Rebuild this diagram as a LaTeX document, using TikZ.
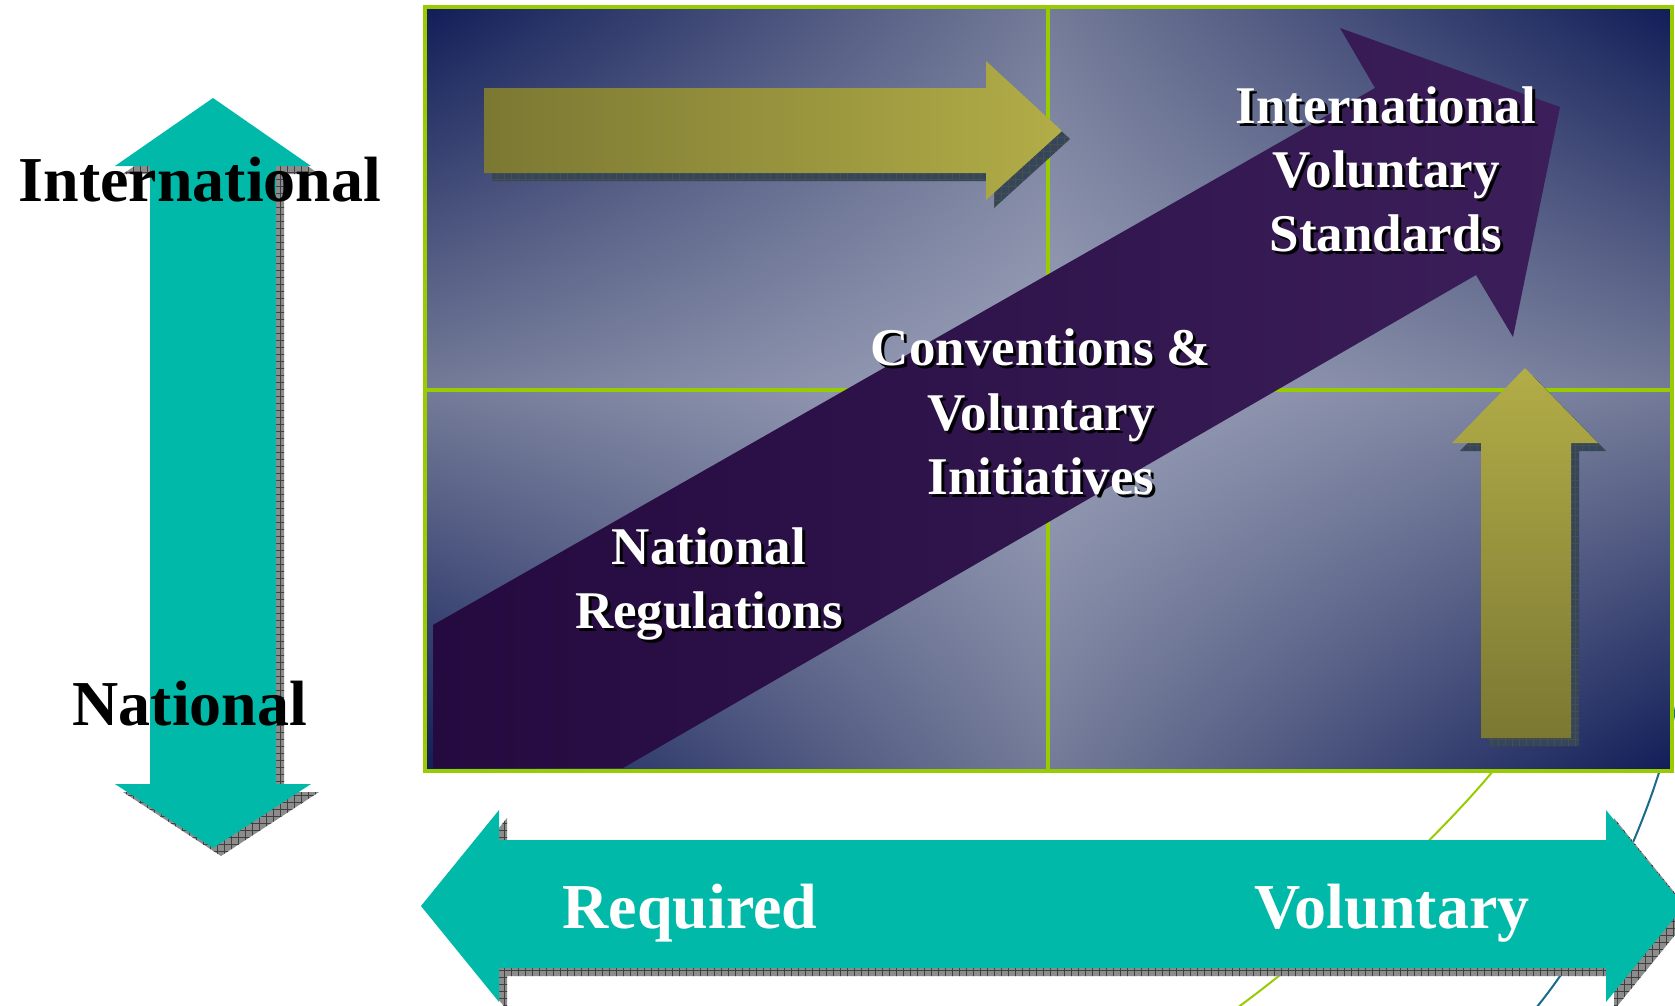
\documentclass[tikz,border=0pt]{standalone}
\usepackage{fontspec}
\setmainfont{Liberation Serif}
\usetikzlibrary{patterns,shadings}
\definecolor{tealA}{HTML}{00B9A8}
\definecolor{navyD}{HTML}{111D58}
\definecolor{midC}{HTML}{747B98}
\definecolor{lightC}{HTML}{9CA2BA}
\definecolor{greenL}{HTML}{99CC00}
\definecolor{oliveD}{HTML}{7B7833}
\definecolor{oliveL}{HTML}{B2AD47}
\definecolor{purpD}{HTML}{240A3F}
\definecolor{purpL}{HTML}{3C1F5A}
\definecolor{slateS}{HTML}{34465A}
\definecolor{grayS}{HTML}{8C8C8C}
\definecolor{blueLn}{HTML}{1A6A8A}
\pgfdeclarepatternformonly{meshgrid}{\pgfpoint{-1pt}{-1pt}}{\pgfpoint{8pt}{8pt}}{\pgfpoint{7pt}{7pt}}{%
  \pgfsetlinewidth{0.7pt}%
  \pgfpathmoveto{\pgfpoint{0pt}{0pt}}\pgfpathlineto{\pgfpoint{7pt}{0pt}}%
  \pgfpathmoveto{\pgfpoint{0pt}{0pt}}\pgfpathlineto{\pgfpoint{0pt}{7pt}}%
  \pgfusepath{stroke}}
\tikzset{
  gline/.style={draw=greenL, line width=4pt},
  tealshadow/.style={fill=grayS, postaction={pattern=meshgrid, pattern color=black!75}},
  oliveshadow/.style={fill=slateS, postaction={pattern=meshgrid, pattern color=black!70}},
  outlbl/.style={inner sep=0pt, outer sep=0pt, anchor=base, font=\fontsize{64}{70}\selectfont\bfseries},
  inlbl/.style={inner sep=0pt, outer sep=0pt, anchor=base, font=\fontsize{53}{60}\selectfont\bfseries, text=white},
  inshadow/.style={inlbl, text=black},
}
\newcommand\shtxt[4]{\node[inshadow] (#1s) at ({#2+3},{#3+3}) {#4};\node[inlbl] (#1) at (#2,#3) {#4};}
\begin{document}
\begin{tikzpicture}[x=1pt,y=-1pt]
\useasboundingbox (0,0) rectangle (1675,1005);
\fill[white] (0,0) rectangle (1675,1005);

% decorative template curves
\draw[greenL, line width=2pt] (1493,771) .. controls (1440,835) and (1330,940) .. (1237,1008);
\draw[blueLn, line width=2pt] (1677,700) .. controls (1660,800) and (1600,930) .. (1536,1008);

% quadrant backgrounds
\shade[upper left=navyD, upper right=midC, lower left=midC, lower right=lightC] (425,7) rectangle (1048,390);
\shade[upper left=midC, upper right=navyD, lower left=lightC, lower right=midC] (1048,7) rectangle (1672,390);
\shade[upper left=midC, upper right=lightC, lower left=navyD, lower right=midC] (425,390) rectangle (1048,771);
\shade[upper left=lightC, upper right=midC, lower left=midC, lower right=navyD] (1048,390) rectangle (1672,771);
\draw[gline] (1048,7) -- (1048,771);
\draw[gline] (425,390) -- (1672,390);

% purple diagonal arrow
\shade[left color=purpD, right color=purpL]
  (433,625) -- (1375,88) -- (1340,28) -- (1560,107) -- (1513,337) -- (1476,275) -- (623,768) -- (433,768) -- cycle;

% olive right arrow
\begin{scope}[shift={(8,8)}]
\path[oliveshadow] (484,88) -- (986,88) -- (986,61) -- (1062,131) -- (986,200) -- (986,173) -- (484,173) -- cycle;
\end{scope}
\shade[left color=oliveD, right color=oliveL]
  (484,88) -- (986,88) -- (986,61) -- (1062,131) -- (986,200) -- (986,173) -- (484,173) -- cycle;

% olive up arrow
\begin{scope}[shift={(8,8)}]
\path[oliveshadow] (1481,738) -- (1481,443) -- (1452,443) -- (1525,368) -- (1598,443) -- (1571,443) -- (1571,738) -- cycle;
\end{scope}
\shade[top color=oliveL, bottom color=oliveD]
  (1481,738) -- (1481,443) -- (1452,443) -- (1525,368) -- (1598,443) -- (1571,443) -- (1571,738) -- cycle;

% border
\draw[gline] (425,7) rectangle (1672,771);

% vertical teal double arrow
\begin{scope}[shift={(8,8)}]
\path[tealshadow] (213,98) -- (311,166) -- (276,166) -- (276,784) -- (311,784) -- (213,848) -- (115,784) -- (150,784) -- (150,166) -- (115,166) -- cycle;
\end{scope}
\fill[tealA] (213,98) -- (311,166) -- (276,166) -- (276,784) -- (311,784) -- (213,848) -- (115,784) -- (150,784) -- (150,166) -- (115,166) -- cycle;

% horizontal teal double arrow
\begin{scope}[shift={(8,8)}]
\path[tealshadow] (421,906) -- (499,810) -- (499,840) -- (1606,840) -- (1606,810) -- (1684,906) -- (1606,1002) -- (1606,968) -- (499,968) -- (499,1002) -- cycle;
\end{scope}
\fill[tealA] (421,906) -- (499,810) -- (499,840) -- (1606,840) -- (1606,810) -- (1684,906) -- (1606,1002) -- (1606,968) -- (499,968) -- (499,1002) -- cycle;

% outer labels
\node[outlbl] (intl) at (200,201) {International};
\node[outlbl] (natl) at (190,725) {National};
\node[outlbl, text=white] (req) at (690,928) {Required};
\node[outlbl, text=white] (vol) at (1392,928) {Voluntary};

% inner labels
\shtxt{ivsA}{1386}{123}{International}
\shtxt{ivsB}{1386}{187}{Voluntary}
\shtxt{ivsC}{1386}{251}{Standards}
\shtxt{cviA}{1041}{365}{Conventions \&}
\shtxt{cviB}{1041}{430}{Voluntary}
\shtxt{cviC}{1041}{494}{Initiatives}
\shtxt{nrA}{709}{564}{National}
\shtxt{nrB}{709}{628}{Regulations}
\end{tikzpicture}
\end{document}
